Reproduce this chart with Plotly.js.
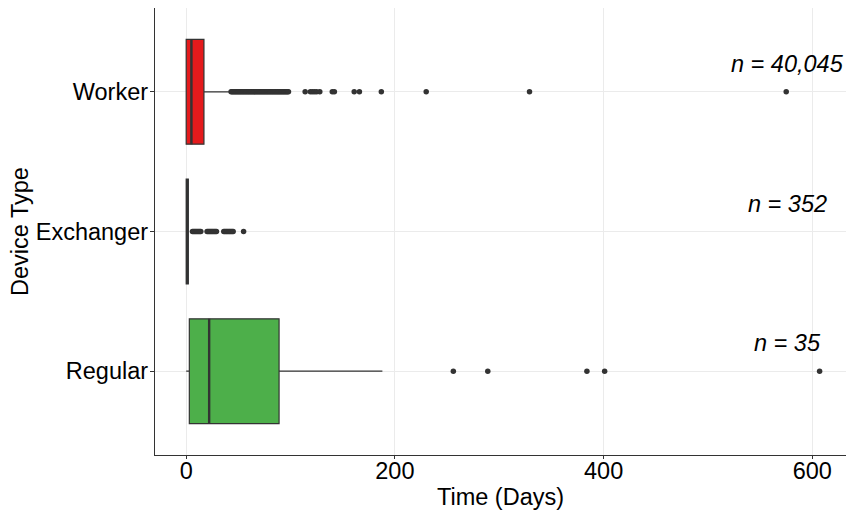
<!DOCTYPE html>
<html>
<head>
<meta charset="utf-8">
<script src="https://cdn.plot.ly/plotly-3.0.1.min.js"></script>
<style>html,body{margin:0;padding:0;background:#fff;}#chart{width:846px;height:510px;}</style>
</head>
<body>
<div id="chart"></div>
<script>
// ---- data ----
const categories = ['Regular', 'Exchanger', 'Worker'];
const counts = ['n = 35', 'n = 352', 'n = 40,045'];
const q1 = [3, 0, 0];
const median = [22, 1, 5];
const q3 = [89, 2, 17];
const lowerWhisker = [0, 0, 0];
const upperWhisker = [188, 2, 42];
const regularOutliers = [256, 289, 384, 401, 607];
const exchangerOutliers = [6, 7, 8, 9, 10, 11, 12, 13, 14, 20, 21, 22, 23, 24, 25, 26, 27, 28, 29,
  36, 37, 38, 39, 40, 41, 42, 43, 44, 45, 55];
const workerOutliers = [43, 44, 45, 46, 47, 48, 49, 50, 51, 52, 53, 54, 55, 56, 57, 58, 59, 60, 61, 62,
  63, 64, 65, 66, 67, 68, 69, 70, 71, 72, 73, 74, 75, 76, 77, 78, 79, 80, 81, 82, 83, 84, 85, 86, 87,
  88, 89, 90, 91, 92, 93, 94, 95, 96, 97, 98, 114, 119, 121, 123, 125, 128, 140, 142, 161, 166, 187,
  230, 329, 575];
const fillColors = ['#4DAF4A', '#377EB8', '#E41A1C'];
const xTicks = [0, 200, 400, 600];
const annotX = 576;

// ---- build ----
const FONT = 'Liberation Sans, Arial, Helvetica, sans-serif';
const FS = 23.5;
const traces = [];
categories.forEach((c, i) => {
  traces.push({
    type: 'box', orientation: 'h', y: [c],
    q1: [q1[i]], median: [median[i]], q3: [q3[i]],
    lowerfence: [lowerWhisker[i]], upperfence: [upperWhisker[i]],
    fillcolor: fillColors[i], line: {color: '#333333', width: 1.2},
    whiskerwidth: 0, width: 0.75, boxpoints: false, showlegend: false, hoverinfo: 'skip'
  });
  // thicker median line (ggplot fatten)
  traces.push({
    type: 'box', orientation: 'h', y: [c],
    q1: [median[i]], median: [median[i]], q3: [median[i]],
    lowerfence: [median[i]], upperfence: [median[i]],
    fillcolor: 'rgba(0,0,0,0)', line: {color: '#333333', width: 2.4},
    whiskerwidth: 0, width: 0.75, boxpoints: false, showlegend: false, hoverinfo: 'skip'
  });
});
const outl = [regularOutliers, exchangerOutliers, workerOutliers];
outl.forEach((vals, i) => {
  traces.push({
    type: 'scatter', mode: 'markers', x: vals, y: vals.map(() => categories[i]),
    marker: {color: '#333333', size: 5.5}, showlegend: false, hoverinfo: 'skip'
  });
});

const annotations = categories.map((c, i) => ({
  x: annotX, y: c, xref: 'x', yref: 'y', yshift: 28,
  text: '<i>' + counts[i] + '</i>', showarrow: false,
  font: {family: FONT, size: FS, color: '#000'}, xanchor: 'center', yanchor: 'middle'
}));

const layout = {
  width: 846, height: 510,
  margin: {l: 155, r: 0, t: 8, b: 55},
  paper_bgcolor: '#fff', plot_bgcolor: '#fff',
  boxmode: 'overlay',
  font: {family: FONT, size: FS, color: '#000'},
  xaxis: {
    range: [-29.9, 632.3], tickvals: xTicks, ticktext: xTicks.map(String),
    showgrid: true, gridcolor: '#ebebeb', gridwidth: 1, zeroline: false,
    showline: true, linecolor: '#333333', linewidth: 1.2,
    ticks: 'outside', ticklen: 3, tickcolor: '#333333', tickwidth: 1,
    ticklabelstandoff: -8,
    tickfont: {family: FONT, size: FS, color: '#000'},
    title: {text: 'Time (Days)', font: {family: FONT, size: FS, color: '#000'}, standoff: 8}
  },
  yaxis: {
    type: 'category', categoryorder: 'array', categoryarray: categories,
    range: [-0.6, 2.6],
    showgrid: true, gridcolor: '#ebebeb', gridwidth: 1, zeroline: false,
    showline: true, linecolor: '#333333', linewidth: 1.2,
    ticks: 'outside', ticklen: 4, tickcolor: '#333333', tickwidth: 1,
    ticklabelstandoff: -3,
    tickfont: {family: FONT, size: FS, color: '#000'},
    title: {text: 'Device Type', font: {family: FONT, size: FS, color: '#000'}, standoff: 0}
  },
  annotations: annotations
};

Plotly.newPlot('chart', traces, layout, {displayModeBar: false, staticPlot: true});
</script>
</body>
</html>
